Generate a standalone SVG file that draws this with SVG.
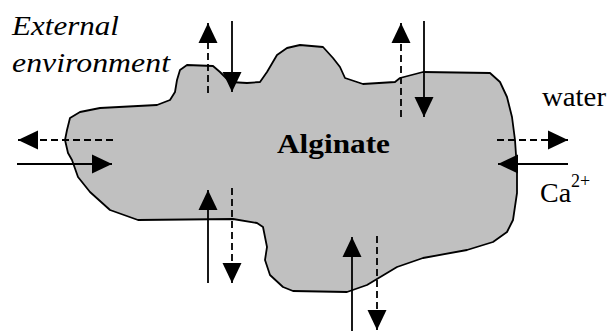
<svg xmlns="http://www.w3.org/2000/svg" width="613" height="331" viewBox="0 0 613 331">
<defs>
<marker id="ah" markerUnits="userSpaceOnUse" viewBox="0 0 20 20" refX="20" refY="10" markerWidth="20" markerHeight="20" orient="auto">
<path d="M0,0.5 L20,10 L0,19.5 z" fill="#000"/>
</marker>
<style>
.ln{stroke:#000;stroke-width:1.8;fill:none;marker-end:url(#ah)}
.ds{stroke-dasharray:7,4}
text{font-family:'Liberation Serif','DejaVu Serif',serif}
</style>
</defs>
<rect width="613" height="331" fill="#fff"/>
<g id="alginate">
<path d="M180,70 L187,65 L213,66 L220,72 L226,78 L230,82 L247,83 L260,82 L267,72 L277,55 L287,48 L300,45 L323,47 L333,58 L340,67 L345,78 L363,84 L395,82 L400,78 L423,72 L490,73 L500,82 L507,97 L512,117 L515,140 L517,170 L517,193 L513,220 L507,232 L493,242 L467,250 L423,258 L397,267 L387,273 L367,285 L347,292 L293,291 L283,287 L270,275 L265,260 L267,247 L263,227 L257,223 L233,219 L138,220 L110,210 L90,192 L78,177 L72,160 L68,153 L65,140 L67,130 L70,118 L80,112 L100,108 L157,105 L170,100 L175,92 L177,80 Z" fill="#c0c0c0" stroke="#000" stroke-width="1.8" stroke-linejoin="round"/>
<text x="277" y="153" font-size="28" font-weight="bold" textLength="113" lengthAdjust="spacingAndGlyphs">Alginate</text>
</g>
<g id="external" font-style="italic" font-size="27">
<text x="12" y="35" textLength="107" lengthAdjust="spacingAndGlyphs">External</text>
<text x="12" y="72" textLength="158" lengthAdjust="spacingAndGlyphs">environment</text>
</g>
<g id="water">
<text x="542" y="106" font-size="28" textLength="64" lengthAdjust="spacingAndGlyphs">water</text>
</g>
<g id="calcium">
<text x="540" y="202" font-size="28">Ca<tspan font-size="18" dy="-15">2+</tspan></text>
</g>
<g id="connectors">
<line class="ln ds" x1="208" y1="93" x2="208" y2="23"/>
<line class="ln" x1="232" y1="21" x2="232" y2="92"/>
<line class="ln ds" x1="401" y1="117" x2="401" y2="23"/>
<line class="ln" x1="424" y1="21" x2="424" y2="117"/>
<line class="ln ds" x1="497" y1="140" x2="568" y2="140"/>
<line class="ln" x1="568" y1="164" x2="498" y2="164"/>
<line class="ln ds" x1="113" y1="140" x2="18" y2="140"/>
<line class="ln" x1="17" y1="164" x2="112" y2="164"/>
<line class="ln" x1="208" y1="283" x2="208" y2="190"/>
<line class="ln ds" x1="232" y1="188" x2="232" y2="283"/>
<line class="ln" x1="352" y1="331" x2="352" y2="237"/>
<line class="ln ds" x1="377" y1="236" x2="377" y2="330"/>
</g>
</svg>
